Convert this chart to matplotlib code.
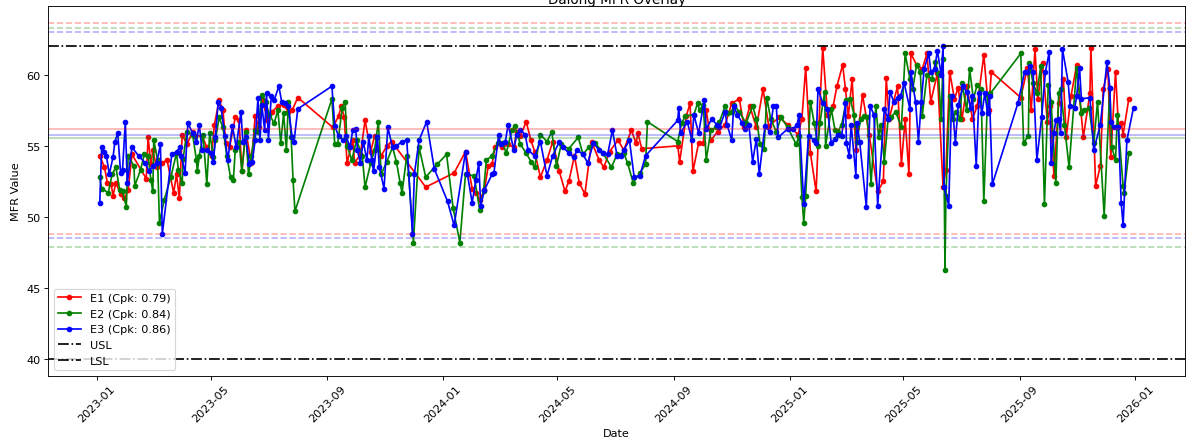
import pandas as pd
from matplotlib import pyplot as plt
import matplotlib.dates as mdates

START = "2023-01-01"

# day offsets from START and MFR readings, per extruder line
E1_DAYS = [3, 8, 11, 15, 17, 20, 25, 29, 33, 37, 52, 54, 57, 59, 63, 69, 74, 81, 84, 87,
           90, 95, 101, 104, 111, 116, 121, 124, 129, 133, 136, 140, 146, 150, 153, 157, 163, 167, 171, 175,
           180, 185, 191, 197, 202, 206, 212, 249, 255, 258, 261, 264, 270, 272, 278, 283, 289, 293, 300, 306,
           311, 347, 377, 389, 396, 400, 404, 409, 413, 417, 420, 424, 428, 434, 440, 443, 447, 453, 458, 462,
           468, 475, 481, 488, 494, 498, 504, 509, 515, 522, 530, 535, 541, 550, 556, 564, 569, 571, 575, 613,
           615, 622, 626, 629, 635, 640, 643, 648, 655, 663, 670, 678, 683, 689, 696, 703, 709, 720, 729, 740,
           744, 748, 753, 759, 762, 766, 771, 777, 781, 787, 790, 793, 797, 801, 808, 815, 824, 830, 833, 836,
           845, 849, 853, 857, 859, 865, 871, 876, 880, 887, 893, 896, 900, 905, 909, 913, 918, 924, 929, 936,
           941, 944, 975, 982, 986, 990, 993, 998, 1003, 1006, 1010, 1015, 1020, 1023, 1028, 1034, 1041, 1048, 1049, 1054,
           1059, 1062, 1067, 1070, 1075, 1078, 1081, 1083, 1089]
E1_MFR = [54.3, 53.5, 52.4, 52.3, 51.5, 52.4, 51.6, 51.3, 51.9, 54.4, 52.7, 55.6, 53.7, 54.7, 53.5, 53.8, 54.0, 51.7, 53.0, 51.3,
          55.8, 55.1, 56.0, 55.7, 55.7, 54.9, 54.3, 56.5, 58.2, 57.5, 55.2, 54.9, 57.0, 56.8, 53.2, 56.1, 53.8, 57.1, 56.3, 58.2,
          56.8, 57.4, 57.8, 57.9, 57.4, 57.5, 58.4, 56.3, 57.1, 57.8, 57.0, 53.8, 55.4, 53.8, 54.4, 56.8, 54.6, 55.7, 54.3, 55.0,
          55.3, 52.1, 53.1, 54.6, 52.0, 51.7, 51.2, 51.9, 53.6, 53.7, 54.9, 55.2, 54.9, 55.1, 54.9, 56.0, 55.7, 56.7, 55.4, 54.6,
          52.8, 54.0, 55.3, 53.2, 51.8, 52.5, 54.3, 52.4, 51.6, 55.3, 54.0, 53.5, 54.6, 55.4, 54.7, 56.1, 55.2, 55.9, 54.8, 55.0,
          53.9, 57.1, 58.0, 53.2, 55.2, 55.2, 57.5, 55.4, 56.0, 56.5, 58.0, 58.3, 56.3, 57.8, 56.3, 59.0, 56.4, 57.0, 56.5, 55.8,
          56.9, 60.5, 54.5, 51.8, 56.6, 61.9, 57.2, 57.8, 59.2, 60.7, 59.0, 57.1, 59.7, 54.7, 58.6, 55.8, 51.8, 52.5, 59.8, 56.9,
          59.2, 53.7, 56.9, 53.0, 61.5, 60.7, 60.4, 61.5, 58.1, 60.1, 52.1, 53.3, 60.2, 58.3, 59.1, 56.9, 59.2, 56.9, 57.8, 61.4,
          57.5, 60.2, 58.4, 60.5, 57.5, 61.8, 58.3, 60.8, 56.7, 57.8, 52.9, 58.0, 59.7, 55.6, 58.5, 60.7, 55.6, 58.7, 61.9, 52.2,
          53.6, 59.0, 60.4, 54.2, 60.2, 56.5, 56.6, 55.8, 58.3]

E2_DAYS = [3, 5, 12, 16, 20, 24, 27, 31, 33, 39, 40, 46, 50, 54, 57, 59, 60, 64, 66, 71,
           78, 84, 86, 90, 91, 95, 101, 105, 106, 108, 112, 116, 119, 123, 125, 129, 133, 137, 141, 144,
           146, 150, 153, 157, 160, 163, 167, 170, 174, 178, 182, 187, 191, 194, 197, 200, 202, 205, 207, 209,
           248, 251, 254, 259, 262, 264, 269, 274, 280, 283, 289, 293, 297, 300, 306, 312, 316, 320, 322, 327,
           329, 334, 340, 347, 359, 369, 376, 383, 389, 398, 404, 408, 411, 417, 423, 428, 432, 438, 441, 447,
           453, 458, 462, 468, 475, 480, 485, 490, 498, 508, 513, 519, 526, 534, 543, 549, 556, 560, 566, 573,
           579, 581, 613, 617, 621, 630, 634, 636, 640, 643, 648, 653, 657, 663, 666, 670, 672, 678, 685, 692,
           696, 700, 704, 707, 711, 717, 722, 729, 738, 741, 744, 746, 748, 753, 757, 761, 763, 768, 769, 775,
           779, 782, 786, 791, 795, 799, 802, 806, 810, 813, 817, 822, 825, 827, 831, 835, 838, 843, 849, 853,
           858, 861, 865, 869, 871, 876, 881, 885, 888, 891, 893, 895, 896, 900, 903, 907, 911, 913, 918, 921,
           925, 929, 933, 936, 940, 943, 975, 978, 983, 984, 988, 992, 996, 1000, 1004, 1007, 1012, 1015, 1017, 1021,
           1026, 1034, 1039, 1042, 1047, 1052, 1056, 1063, 1069, 1071, 1075, 1077, 1083, 1084, 1089]
E2_MFR = [52.8, 52.0, 51.7, 53.0, 53.5, 51.9, 51.8, 50.7, 54.3, 53.6, 52.2, 53.3, 54.4, 54.3, 52.6, 51.8, 55.4, 54.0, 49.6, 51.2,
          52.8, 54.5, 53.3, 52.4, 54.1, 56.0, 55.8, 54.0, 53.2, 54.3, 55.8, 52.3, 55.9, 54.2, 55.4, 57.0, 56.3, 54.3, 52.8, 52.6,
          54.7, 55.3, 53.2, 56.0, 53.0, 54.3, 56.1, 56.0, 58.6, 58.1, 57.2, 56.6, 57.5, 55.2, 57.3, 54.7, 58.1, 55.6, 52.6, 50.4,
          58.3, 55.1, 55.1, 57.7, 58.1, 55.0, 54.0, 55.4, 54.3, 52.1, 53.8, 54.7, 56.7, 53.0, 53.9, 54.9, 53.9, 52.4, 51.7, 54.3,
          53.0, 48.2, 54.9, 52.8, 53.7, 54.4, 50.6, 48.2, 53.0, 52.9, 50.5, 51.8, 54.0, 54.3, 55.2, 55.2, 54.5, 56.1, 56.4, 55.1,
          54.5, 53.9, 53.5, 55.8, 55.3, 56.0, 53.6, 55.1, 54.8, 55.6, 54.4, 54.9, 55.2, 54.5, 53.5, 54.4, 54.5, 53.8, 52.4, 53.1,
          53.7, 56.7, 55.3, 56.6, 57.1, 57.2, 58.0, 57.5, 57.9, 54.0, 56.1, 56.3, 56.7, 57.8, 57.3, 57.4, 57.9, 57.4, 56.6, 57.8,
          56.9, 55.1, 54.8, 58.4, 56.9, 56.0, 57.0, 56.3, 55.1, 55.7, 51.4, 49.6, 51.5, 58.1, 56.6, 55.0, 56.6, 58.8, 55.0, 57.6,
          56.1, 56.0, 56.5, 58.2, 58.3, 57.2, 55.3, 56.9, 57.1, 57.0, 52.3, 57.8, 55.6, 56.5, 53.9, 56.9, 57.0, 57.4, 56.3, 61.5,
          59.7, 59.0, 60.7, 60.2, 57.1, 60.0, 59.7, 60.9, 60.1, 56.9, 61.1, 46.3, 51.5, 58.5, 56.9, 57.4, 56.9, 59.4, 57.5, 60.4,
          58.3, 59.3, 59.0, 51.1, 58.6, 58.7, 61.5, 55.2, 55.7, 60.8, 59.4, 58.7, 60.6, 50.9, 59.3, 58.1, 52.4, 58.7, 59.0, 56.5,
          53.5, 60.5, 57.3, 57.5, 57.7, 55.2, 58.1, 50.1, 59.1, 54.9, 54.0, 57.2, 52.2, 51.7, 54.5]

E3_DAYS = [3, 5, 8, 10, 13, 17, 19, 22, 25, 27, 30, 32, 37, 44, 51, 55, 59, 63, 67, 69,
           79, 84, 88, 89, 93, 96, 101, 105, 108, 111, 116, 120, 123, 125, 128, 131, 135, 138, 143, 147,
           152, 154, 157, 161, 164, 167, 170, 172, 174, 177, 179, 181, 184, 187, 192, 195, 199, 202, 206, 208,
           212, 248, 251, 255, 260, 263, 267, 270, 273, 275, 278, 281, 285, 287, 290, 292, 296, 298, 303, 307,
           312, 316, 322, 327, 333, 335, 340, 348, 356, 370, 377, 389, 391, 396, 400, 403, 405, 409, 417, 419,
           424, 426, 431, 434, 440, 443, 447, 452, 455, 462, 468, 475, 481, 488, 492, 498, 503, 507, 513, 518,
           524, 530, 534, 539, 544, 549, 553, 556, 562, 567, 573, 579, 613, 614, 616, 623, 628, 630, 635, 641,
           643, 649, 654, 657, 663, 665, 670, 672, 676, 681, 684, 688, 692, 696, 699, 705, 710, 714, 717, 719,
           729, 735, 739, 741, 746, 751, 757, 759, 761, 766, 771, 775, 779, 782, 786, 790, 791, 794, 796, 801,
           802, 805, 812, 816, 820, 824, 831, 835, 837, 841, 845, 848, 852, 858, 859, 864, 867, 870, 873, 878,
           880, 884, 887, 891, 893, 894, 899, 902, 906, 909, 914, 918, 922, 924, 928, 931, 934, 937, 940, 942,
           945, 972, 979, 982, 985, 988, 992, 997, 1001, 1005, 1007, 1010, 1012, 1015, 1017, 1019, 1025, 1027, 1032, 1034,
           1037, 1039, 1048, 1052, 1059, 1066, 1069, 1070, 1073, 1078, 1081, 1083, 1087, 1094]
E3_MFR = [51.0, 54.9, 54.6, 54.3, 53.0, 54.2, 55.3, 55.9, 53.1, 53.3, 56.7, 52.4, 54.9, 54.3, 53.8, 53.2, 53.6, 53.8, 55.1, 48.8,
          54.4, 54.6, 54.9, 54.3, 53.1, 56.6, 55.9, 55.3, 56.5, 54.7, 54.7, 54.5, 53.9, 55.6, 58.1, 57.7, 55.7, 54.0, 56.4, 54.9,
          57.4, 55.3, 55.6, 53.7, 53.9, 55.4, 58.4, 55.4, 57.9, 56.1, 58.7, 55.4, 58.5, 58.2, 59.2, 58.1, 58.0, 57.8, 55.6, 55.3,
          57.6, 59.2, 56.4, 55.7, 55.4, 55.7, 54.9, 56.1, 56.2, 54.7, 53.8, 55.3, 54.0, 55.7, 54.0, 53.2, 55.6, 53.5, 52.0, 56.3,
          54.9, 55.0, 55.3, 55.4, 48.8, 53.0, 55.4, 56.7, 53.4, 51.1, 49.4, 54.6, 53.0, 51.0, 52.6, 53.8, 50.8, 51.9, 53.0, 53.1,
          55.8, 55.1, 55.3, 56.5, 54.7, 55.8, 56.1, 55.8, 54.7, 54.3, 55.3, 52.9, 54.3, 55.3, 54.9, 54.5, 54.2, 54.7, 54.4, 53.8,
          55.2, 54.7, 54.5, 54.4, 56.1, 54.3, 54.3, 54.7, 55.4, 52.8, 52.9, 54.3, 56.8, 57.7, 55.9, 56.7, 55.4, 57.2, 55.9, 58.2,
          56.2, 56.9, 56.5, 56.3, 57.4, 56.5, 55.4, 57.8, 57.2, 56.6, 56.2, 56.5, 53.9, 55.5, 53.0, 56.4, 56.0, 57.8, 57.8, 55.6,
          56.2, 56.2, 56.5, 57.2, 50.9, 55.7, 55.4, 55.2, 59.0, 58.0, 57.6, 55.2, 55.5, 55.8, 55.7, 58.0, 55.2, 54.3, 56.5, 52.9,
          56.6, 55.3, 50.7, 57.8, 57.2, 50.8, 57.6, 56.9, 58.8, 58.1, 58.4, 58.5, 59.4, 57.6, 60.2, 58.1, 55.3, 58.1, 60.4, 61.5,
          60.2, 60.4, 61.7, 60.0, 62.0, 52.1, 50.8, 58.5, 55.2, 57.9, 59.2, 58.8, 57.7, 58.5, 53.6, 58.7, 57.3, 58.7, 57.3, 58.5,
          52.3, 58.0, 60.2, 60.2, 60.6, 60.2, 54.0, 57.0, 60.2, 61.6, 53.8, 55.9, 56.8, 56.9, 55.9, 61.8, 59.5, 57.8, 57.7, 58.5,
          60.5, 58.3, 58.4, 54.7, 56.5, 60.9, 59.1, 56.7, 56.3, 56.3, 51.0, 49.4, 55.4, 57.7]

LINES = ["E1", "E2", "E3"]
COLORS = ["red", "green", "blue"]
CPK = [0.79, 0.84, 0.86]
MEANS = [56.2, 55.55, 55.8]
UCL = [63.65, 63.3, 63.0]
LCL = [48.8, 47.85, 48.55]
USL = 62
LSL = 40

series = [(E1_DAYS, E1_MFR), (E2_DAYS, E2_MFR), (E3_DAYS, E3_MFR)]

# the reference looks like a larger figure scaled down, so render at a lower dpi
fig = plt.figure(figsize=(1187 / 81, 446 / 81), dpi=81)
ax = fig.add_axes([0.0405, 0.155, 0.958, 0.829])

for name, color, cpk, (days, vals) in zip(LINES, COLORS, CPK, series):
    dates = pd.Timestamp(START) + pd.to_timedelta(days, unit="D")
    ax.plot(dates, vals, marker="o", markersize=4, linewidth=1.5, color=color,
            label=f"{name} (Cpk: {cpk:.2f})")

for color, m, u, l in zip(COLORS, MEANS, UCL, LCL):
    ax.axhline(m, color=color, linestyle="-", alpha=0.3)
    ax.axhline(u, color=color, linestyle="--", alpha=0.3)
    ax.axhline(l, color=color, linestyle="--", alpha=0.3)

ax.axhline(USL, color="black", linestyle="-.", linewidth=1.5, label="USL")
ax.axhline(LSL, color="black", linestyle="-.", linewidth=1.5, label="LSL")

ax.xaxis.set_major_locator(mdates.MonthLocator(bymonth=[1, 5, 9]))
ax.xaxis.set_major_formatter(mdates.DateFormatter("%Y-%m"))
plt.setp(ax.get_xticklabels(), rotation=45)

ax.set_title("Dalong MFR Overlay", pad=2.5)
ax.set_xlabel("Date")
ax.set_ylabel("MFR Value")
ax.legend(loc="lower left")

fig.savefig("out.png", dpi=81)
